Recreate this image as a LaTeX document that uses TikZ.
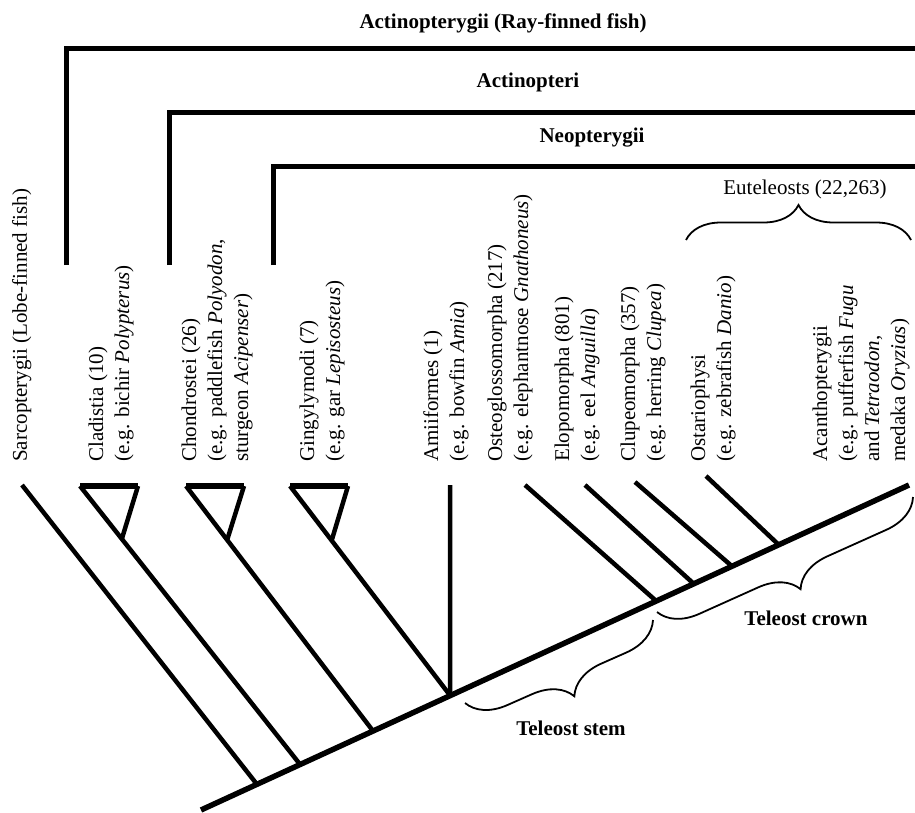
\documentclass[tikz,border=0pt]{standalone}
\usepackage{fontspec}
\setmainfont{Liberation Serif}
\usetikzlibrary{calc,decorations.pathreplacing}

\newcommand{\taxtext}[1]{\begin{tabular}[t]{@{}l@{}}#1\end{tabular}}

\tikzset{
  trunk/.style={line width=5.5pt},
  branch/.style={line width=4.5pt},
  bar/.style={line width=5pt},
  taxon/.style={rotate=90, anchor=base west, inner sep=0pt,
    font=\fontsize{21}{26}\selectfont},
  group/.style={anchor=base, inner sep=0pt,
    font=\bfseries\fontsize{21}{25}\selectfont},
  curly/.style={decorate, line width=1.8pt,
    decoration={brace, amplitude=#1}},
}

\begin{document}
\begin{tikzpicture}[x=1pt, y=-1pt]
    \useasboundingbox (0,0) rectangle (915,813);

    % ствол
    \coordinate (root) at (201,810);
    \coordinate (top) at (909,485);
    \draw[trunk] (root) -- (top);
    \foreach \n/\t in {sarco/0.079, clad/0.140, chon/0.243, holo/0.352,
                       osteo/0.643, elopo/0.696, clupeo/0.750, ostar/0.816}
        \coordinate (\n) at ($(root)!\t!(top)$);

    % ветви
    \coordinate (sarco-tip) at (22,485);
    \draw[branch] (sarco-tip) -- (sarco);
    \foreach \n/\j/\x/\f in {clad/clad/80/0.19, chon/chon/186/0.22, ging/holo/290/0.26} {
        \coordinate (\n-tip) at (\x,486);
        \coordinate (\n-right) at (\x+58,486);
        \coordinate (\n-apex) at ($(\n-tip)!\f!(\j)$);
        \draw[branch] (\n-tip) -- (\j);
        \draw[branch] (\n-right) -- (\n-apex);
        \draw[bar, line width=5.5pt] (\n-tip) -- (\n-right);
    }
    \coordinate (amia-tip) at (450,485);
    \draw[branch] (amia-tip) -- (holo);
    \foreach \n/\x/\y in {osteo/525/485, elopo/585/485, clupeo/635/482, ostar/706/476} {
        \coordinate (\n-tip) at (\x,\y);
        \draw[branch] (\n-tip) -- (\n);
    }

    % группы
    \draw[bar] (66,265) |- (915,49);
    \draw[bar] (169,265) |- (915,113);
    \draw[bar] (273,265) |- (915,167);
    \node[group] (actinopterygii) at (503,29) {Actinopterygii (Ray-finned fish)};
    \node[group] (actinopteri) at (528,88) {Actinopteri};
    \node[group] (neopterygii) at (592,143) {Neopterygii};

    % подписи таксонов
    \node[taxon] (sarco-lab) at (27,462) {Sarcopterygii (Lobe-finned fish)};
    \node[taxon] (clad-lab) at (103,462) {\taxtext{Cladistia (10)\\(e.g. bichir \textit{Polypterus})}};
    \node[taxon] (chon-lab) at (196,462) {\taxtext{Chondrostei (26)\\(e.g. paddlefish \textit{Polyodon},\\sturgeon \textit{Acipenser})}};
    \node[taxon] (ging-lab) at (314,462) {\taxtext{Gingylymodi (7)\\(e.g. gar \textit{Lepisosteus})}};
    \node[taxon] (amia-lab) at (438,462) {\taxtext{Amiiformes (1)\\(e.g. bowfin \textit{Amia})}};
    \node[taxon] (osteo-lab) at (502,462) {\taxtext{Osteoglossomorpha (217)\\(e.g. elephantnose \textit{Gnathoneus})}};
    \node[taxon] (elopo-lab) at (569,462) {\taxtext{Elopomorpha (801)\\(e.g. eel \textit{Anguilla})}};
    \node[taxon] (clupeo-lab) at (635,462) {\taxtext{Clupeomorpha (357)\\(e.g. herring \textit{Clupea})}};
    \node[taxon] (ostar-lab) at (705,462) {\taxtext{Ostariophysi\\(e.g. zebrafish \textit{Danio})}};
    \node[taxon] (acan-lab) at (827,462) {\taxtext{Acanthopterygii\\(e.g. pufferfish \textit{Fugu}\\and \textit{Tetraodon},\\medaka \textit{Oryzias})}};

    % скобки
    \coordinate (eu-a) at (686,240);
    \coordinate (eu-b) at (911,240);
    \draw[curly=35pt] (eu-a) -- (eu-b);
    \node[anchor=base, inner sep=0pt, font=\fontsize{21}{25}\selectfont] (euteleosts) at (805,195) {Euteleosts (22,263)};

    \coordinate (crown-a) at (913,497);
    \coordinate (crown-b) at (657,612);
    \draw[curly=38pt] (crown-a) -- (crown-b);
    \node[group] (crown) at (806,625) {Teleost crown};

    \coordinate (stem-a) at (653,620);
    \coordinate (stem-b) at (465,703);
    \draw[curly=38pt] (stem-a) -- (stem-b);
    \node[group] (stem) at (571,735) {Teleost stem};
\end{tikzpicture}
\end{document}
